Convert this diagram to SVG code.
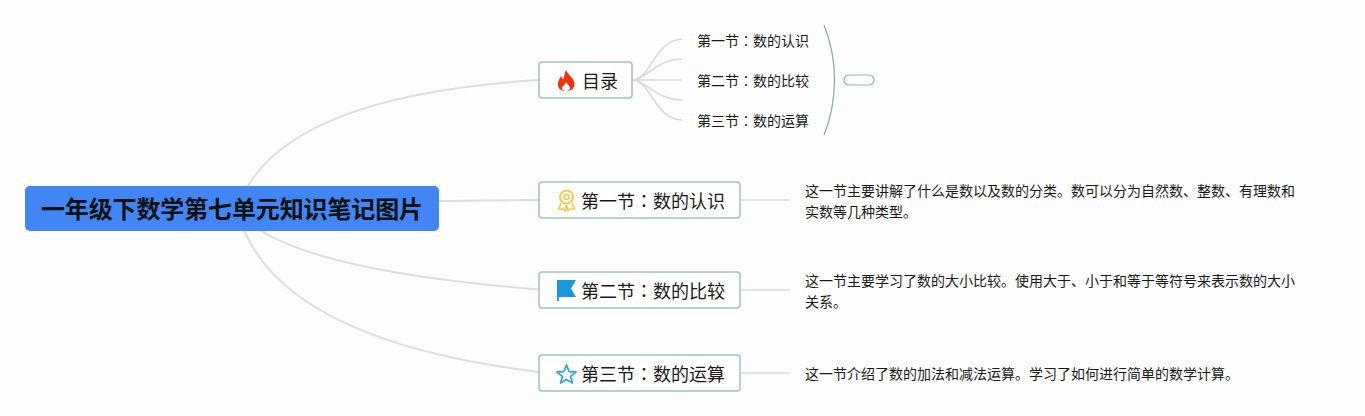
<svg xmlns="http://www.w3.org/2000/svg" width="1365" height="416" viewBox="0 0 1365 416">
<style>
text{font-family:"Noto Sans CJK SC","Liberation Sans",sans-serif;fill:#1a1a1a}
.c{fill:none;stroke:#dddddd;stroke-width:2}
.c2{fill:none;stroke:#d9d9d9;stroke-width:1.6}
.n{fill:#fff;stroke:#9fc3ba;stroke-width:1.5}
.h{font-size:18px}
.s,.d{font-size:14px}
.k{font-family:"Noto Sans CJK TC",sans-serif}
</style>
<rect width="1365" height="416" fill="#fdfdfd"/>
<g id="connectors">
<path class="c" d="M248 186C290 115 410 88 539 80"/>
<path class="c" d="M439 201C470 201 500 200 539 200"/>
<path class="c" d="M260 230C310 262 420 280 539 289.500"/>
<path class="c" d="M244 230C280 315 400 355 539 372"/>
<path class="c2" d="M633 80C650 80 655 40 682 39"/>
<path class="c2" d="M633 80C648 78 655 60 682 59"/>
<path class="c2" d="M633 80H682"/>
<path class="c2" d="M633 80C648 82 655 99 682 100"/>
<path class="c2" d="M633 80C650 80 655 120 682 120"/>
<path class="c2" d="M741 200H790"/>
<path class="c2" d="M741 290H790"/>
<path class="c2" d="M741 373H790"/>
<path d="M824 25C838 60 838 100 824 135" fill="none" stroke="#7fae9f" stroke-width="1.2"/>
</g>
<g id="root">
<rect x="25" y="186" width="414" height="45" rx="5" fill="#4285f4"/>
<text x="232" y="218" text-anchor="middle" font-size="24" font-weight="700" style="fill:#111" textLength="382">一年级下数学第七单元知识笔记图片</text>
</g>
<g id="node-toc">
<rect class="n" x="539" y="62" width="93" height="36" rx="3"/>
<path d="M566 70C568 75 573 77 574.500 83C575 88 572 91 566 91C560 91 557.500 88 558 83C558.500 80 560 78 561 76C562 78 562.500 79 563.500 79C564.500 76 564.500 73 566 70Z" fill="#f0320f"/>
<path d="M566 82C568 85 570 86 570 88.500C570 90 568 91 566 91C564 91 562 90 562 88.500C562 86 565 85 566 82Z" fill="#fff"/>
<text class="h" x="582" y="88">目录</text>
</g>
<g id="branch-toc">
<text class="s" x="697" y="46">第一节<tspan class="k">：</tspan>数的认识</text>
<text class="s" x="697" y="86">第二节<tspan class="k">：</tspan>数的比较</text>
<text class="s" x="697" y="126">第三节<tspan class="k">：</tspan>数的运算</text>
</g>
<g id="summary"><rect x="844" y="75" width="30" height="10" rx="5" fill="#fff" stroke="#8fb8ad" stroke-width="1.200"/></g>
<g id="node-1">
<rect class="n" x="539" y="182" width="201" height="36" rx="3"/>
<circle cx="566.500" cy="197" r="6.500" fill="none" stroke="#f8c846" stroke-width="2"/>
<circle cx="566.500" cy="197" r="2.500" fill="none" stroke="#f8c846" stroke-width="1.500"/>
<path d="M561 203L558.500 209L562.500 209L565 211L566.500 205L568 211L570.500 209L574.500 209L572 203" fill="none" stroke="#f8c846" stroke-width="1.500"/>
<text class="h" x="581" y="207.500">第一节<tspan class="k">：</tspan>数的认识</text>
</g>
<g id="node-2">
<rect class="n" x="539" y="272" width="201" height="36" rx="3"/>
<path d="M557 280H576L571 288.500L576 297H559V301H557Z" fill="#1a98dc"/>
<text class="h" x="581" y="297.500">第二节<tspan class="k">：</tspan>数的比较</text>
</g>
<g id="node-3">
<rect class="n" x="539" y="355" width="201" height="36" rx="3"/>
<path d="M566.500 365L569 371.500L576 372L570.500 376.500L572.500 383L566.500 379.500L560.500 383L562.500 376.500L557 372L564 371.500Z" fill="none" stroke="#36a5e0" stroke-width="1.800" stroke-linejoin="round"/>
<text class="h" x="581" y="380.500">第三节<tspan class="k">：</tspan>数的运算</text>
</g>
<g id="desc-1">
<text class="d" x="805" y="196">这一节主要讲解了什么是数以及数的分类。数可以分为自然数、整数、有理数和</text>
<text class="d" x="805" y="217">实数等几种类型。</text>
</g>
<g id="desc-2">
<text class="d" x="805" y="286">这一节主要学习了数的大小比较。使用大于、小于和等于等符号来表示数的大小</text>
<text class="d" x="805" y="307">关系。</text>
</g>
<g id="desc-3">
<text class="d" x="805" y="379">这一节介绍了数的加法和减法运算。学习了如何进行简单的数学计算。</text>
</g>
</svg>
